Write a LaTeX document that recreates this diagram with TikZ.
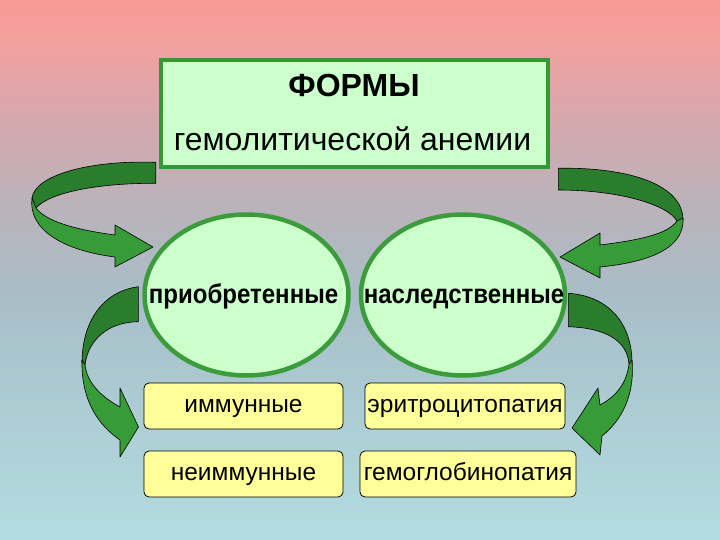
\documentclass[tikz,border=0pt]{standalone}
\usepackage{fontspec}
\setmainfont{Liberation Sans}
\usetikzlibrary{shapes.geometric}
\definecolor{bgtop}{HTML}{F99A96}
\definecolor{bgA}{HTML}{F4A09E}
\definecolor{bgB}{HTML}{DCA6AB}
\definecolor{bgC}{HTML}{BCB2B9}
\definecolor{bgD}{HTML}{A8BEC8}
\definecolor{bgbot}{HTML}{B2DDE0}
\definecolor{palegreen}{HTML}{CCFFCC}
\definecolor{framegreen}{HTML}{339933}
\definecolor{ovalgreen}{HTML}{3C9C3C}
\definecolor{paleyellow}{HTML}{FFFF99}
\definecolor{adark}{HTML}{2B7D2E}
\definecolor{alight}{HTML}{379B37}
\pgfdeclareverticalshading{bgshade}{100bp}{color(0bp)=(bgbot); color(25bp)=(bgbot); color(47.2bp)=(bgD); color(56.5bp)=(bgC); color(65.7bp)=(bgB); color(71.3bp)=(bgA); color(75bp)=(bgtop); color(100bp)=(bgtop)}
\begin{document}
\begin{tikzpicture}[x=1pt,y=-1pt,
  arrdark/.style={fill=adark, draw=black, line width=0.6pt, line join=round},
  arrlight/.style={fill=alight, draw=black, line width=0.6pt, line join=round},
  titlebox/.style={rectangle, draw=framegreen, line width=4pt, fill=palegreen, minimum width=387pt, minimum height=107pt, inner sep=0pt},
  titletext/.style={anchor=base, inner sep=0pt, font=\fontsize{32}{38}\selectfont},
  oval/.style={ellipse, draw=ovalgreen, line width=4.5pt, fill=palegreen, minimum width=204pt, minimum height=161pt, inner sep=0pt},
  ovaltext/.style={anchor=base, inner sep=0pt, font=\fontsize{27}{30}\selectfont\bfseries},
  ybox/.style={rectangle, rounded corners=5pt, draw=black, line width=0.8pt, fill=paleyellow, minimum height=46pt, inner sep=0pt, font=\fontsize{24.5}{28}\selectfont, text height=12.5pt, text depth=0pt}
]
\useasboundingbox (0,0) rectangle (720,540);
\shade[shading=bgshade] (0,0) rectangle (720,540);

% title
\node[titlebox] (title) at (354.5,113.5) {};
\node[titletext, font=\fontsize{32}{38}\selectfont\bfseries] (t1) at (354,97) {ФОРМЫ};
\node[titletext] (t2) at (352.5,151) {гемолитической анемии};

% top-left arrow
\draw[arrdark] (155.7,162.3) .. controls (90,160) and (35,175) .. (32,198) -- (36,208) .. controls (50,192) and (100,183) .. (155.7,183.3) -- cycle;
\draw[arrlight] (32,198) .. controls (28,228) and (60,250) .. (115,257) -- (115,267) -- (153,247) -- (115,225) -- (115,235) .. controls (70,229) and (45,220) .. (36,208) -- cycle;

% top-right arrow
\draw[arrdark] (558.3,168.3) .. controls (630,167) and (683,185) .. (683,220) -- (677,221) .. controls (668,205) and (620,190) .. (558.3,190) -- cycle;
\draw[arrlight] (683,218) .. controls (685,252) and (640,263) .. (600,267) -- (600,278) -- (560,257) -- (600,233) -- (600,245) .. controls (640,240) and (668,234) .. (677,221) -- cycle;

% lower-left arrow
\draw[arrdark] (138.3,286.7) .. controls (100,292) and (82,325) .. (82,363) -- (85,365) .. controls (88,340) and (108,322) .. (138.3,321.7) -- cycle;
\draw[arrlight] (82,360) .. controls (81,400) and (98,425) .. (120,440) -- (120,457) -- (138.5,427) -- (120,388) -- (120,407) .. controls (100,396) and (87,382) .. (85,365) -- cycle;

% lower-right arrow
\draw[arrdark] (568.3,293.3) .. controls (610,296) and (632,325) .. (632,363) -- (629,364) .. controls (627,340) and (605,328) .. (568.3,326.7) -- cycle;
\draw[arrlight] (632,360) .. controls (635,395) and (622,420) .. (602,436) -- (600,455) -- (572,428) -- (598,388) -- (600,405) .. controls (617,396) and (627,382) .. (629,364) -- cycle;

% ovals
\node[oval] (acq) at (246.5,295) {};
\node[oval] (her) at (463,295) {};
\node[ovaltext] (acqt) at (243.5,303) {\scalebox{0.89}[1]{приобретенные}};
\node[ovaltext] (hert) at (464,303) {\scalebox{0.89}[1]{наследственные}};

% boxes
\node[ybox, minimum width=199pt] (b1) at (243.5,406) {иммунные};
\node[ybox, minimum width=200pt] (b2) at (465,406) {эритроцитопатия};
\node[ybox, minimum width=199pt] (b3) at (243.5,474) {неиммунные};
\node[ybox, minimum width=216pt] (b4) at (468,474) {гемоглобинопатия};
\end{tikzpicture}
\end{document}
